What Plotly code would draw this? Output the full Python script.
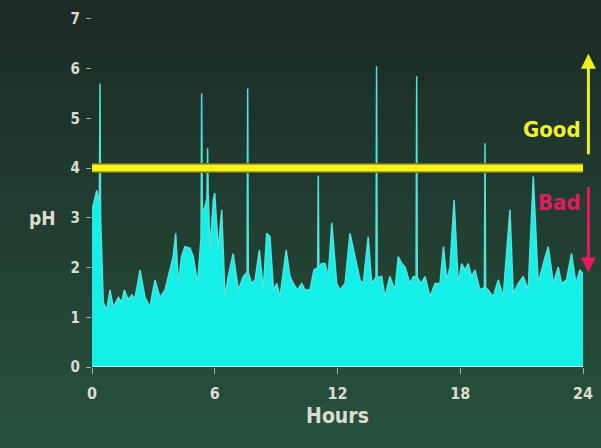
import plotly.graph_objects as go

hours = [0, 0.1, 0.23, 0.36, 0.39, 0.42, 0.55, 0.72, 0.88, 1.04, 1.29, 1.45, 1.58, 1.77, 1.94,
         2.1, 2.35, 2.59, 2.83, 3.08, 3.32, 3.57, 3.81, 3.97, 4.09, 4.22, 4.38, 4.54, 4.79, 4.95,
         5.16, 5.33, 5.36, 5.39, 5.49, 5.62, 5.65, 5.68, 5.77, 5.93, 6.0, 6.17, 6.34, 6.5, 6.66,
         6.9, 7.15, 7.4, 7.58, 7.61, 7.64, 7.8, 7.97, 8.18, 8.37, 8.54, 8.7, 8.87, 9.03, 9.19,
         9.49, 9.68, 9.84, 10.04, 10.25, 10.41, 10.65, 10.85, 11.03, 11.06, 11.09, 11.22, 11.39,
         11.55, 11.72, 11.96, 12.12, 12.37, 12.61, 12.85, 13.1, 13.26, 13.5, 13.67, 13.88, 13.91,
         13.94, 14.16, 14.32, 14.56, 14.81, 14.97, 15.14, 15.3, 15.54, 15.71, 15.84, 15.87, 15.9,
         16.08, 16.28, 16.52, 16.77, 17.01, 17.18, 17.34, 17.5, 17.7, 17.9, 18.07, 18.23, 18.39,
         18.55, 18.72, 18.96, 19.18, 19.21, 19.24, 19.37, 19.61, 19.86, 20.1, 20.43, 20.59, 20.84,
         21.08, 21.32, 21.57, 21.81, 22.06, 22.3, 22.55, 22.79, 22.95, 23.19, 23.44, 23.65, 23.85, 24.0]

ph = [3.15, 3.3, 3.55, 3.3, 5.7, 3.0, 1.3, 1.15, 1.55, 1.2, 1.4, 1.3, 1.55, 1.35, 1.45,
      1.38, 1.95, 1.4, 1.21, 1.75, 1.4, 1.55, 1.95, 2.22, 2.69, 1.68, 2.22, 2.42, 2.39, 2.22,
      1.68, 2.6, 5.5, 3.2, 3.16, 3.4, 4.4, 3.5, 2.35, 3.36, 3.5, 2.35, 3.16, 1.41, 1.82,
      2.28, 1.55, 1.82, 1.9, 5.6, 1.9, 1.68, 1.75, 2.35, 1.55, 2.69, 2.62, 1.55, 1.68, 1.41,
      2.35, 1.82, 1.68, 1.55, 1.68, 1.55, 1.55, 1.95, 2.0, 3.85, 2.0, 2.08, 2.08,
      1.82, 2.9, 1.68, 1.55, 1.68, 2.69, 2.22, 1.75, 1.68, 2.62, 1.68, 1.8, 6.05,
      1.8, 1.82, 1.41, 1.82, 1.55, 2.22, 2.08, 2.01, 1.68, 1.82, 1.8, 5.85, 1.8,
      1.68, 1.82, 1.41, 1.68, 1.68, 2.42, 1.75, 2.01, 3.36, 1.68, 2.08, 1.95, 2.08,
      1.82, 1.95, 1.55, 1.6, 4.5, 1.6, 1.55, 1.41, 1.75, 1.41, 3.16, 1.48, 1.68,
      1.82, 1.55, 3.83, 1.68, 2.08, 2.42, 1.68, 2.01, 1.68, 1.75, 2.28, 1.68, 1.95, 1.88]

threshold = 4
x_ticks = [0, 6, 12, 18, 24]
y_ticks = [0, 1, 2, 3, 4, 5, 6, 7]

FONT = "DejaVu Sans Condensed, Liberation Sans Narrow, Arial Narrow, sans-serif"
TXT = "#dcdcd2"
PX_PER_UNIT = 358 / 7.2

fig = go.Figure()

fig.add_trace(go.Scatter(x=hours, y=ph, mode="lines", fill="tozeroy",
                         line=dict(color="#4fe3dc", width=1.5),
                         fillcolor="#14efe8", hoverinfo="skip", showlegend=False))

# baseline
fig.add_trace(go.Scatter(x=[0, 24], y=[0, 0], mode="lines",
                         line=dict(color="#b8f4ee", width=2), showlegend=False, hoverinfo="skip"))

# threshold line
fig.add_trace(go.Scatter(x=[0, 24], y=[threshold, threshold], mode="lines",
                         line=dict(color="#6f6d14", width=10), showlegend=False, hoverinfo="skip"))
fig.add_trace(go.Scatter(x=[0, 24], y=[threshold, threshold], mode="lines",
                         line=dict(color="#f4f21a", width=7), showlegend=False, hoverinfo="skip"))

# gradient background
shapes = []
n = 30
top = (28, 43, 37)
bot = (40, 82, 62)
y0p, y1p = -82 / 358, 1 + 10 / 358
for i in range(n):
    t = i / (n - 1)
    c = tuple(int(top[k] + (bot[k] - top[k]) * t) for k in range(3))
    ya = y1p - (y1p - y0p) * i / n
    yb = y1p - (y1p - y0p) * (i + 1) / n
    shapes.append(dict(type="rect", xref="paper", yref="paper", x0=-0.25, x1=1.1,
                       y0=yb, y1=ya, fillcolor="rgb(%d,%d,%d)" % c, line=dict(width=0),
                       layer="below"))

arrow_x = 1.011
good_head, good_tail = 6.3, 4.25
bad_head, bad_tail = 1.9, 3.65

annotations = [
    dict(x=arrow_x, y=good_head, xref="paper", yref="y", axref="pixel", ayref="pixel",
         ax=0, ay=(good_head - good_tail) * PX_PER_UNIT,
         showarrow=True, arrowhead=2, arrowsize=1, arrowwidth=3, arrowcolor="#eef01e", text=""),
    dict(x=arrow_x, y=bad_head, xref="paper", yref="y", axref="pixel", ayref="pixel",
         ax=0, ay=(bad_head - bad_tail) * PX_PER_UNIT,
         showarrow=True, arrowhead=2, arrowsize=1, arrowwidth=3, arrowcolor="#e8185e", text=""),
    dict(x=1.0, y=4.78, xref="paper", yref="y", text="<b>Good</b>", showarrow=False,
         xanchor="right", font=dict(family=FONT, size=22, color="#eef030")),
    dict(x=1.0, y=3.3, xref="paper", yref="y", text="<b>Bad</b>", showarrow=False,
         xanchor="right", font=dict(family=FONT, size=22, color="#e01c60")),
    dict(x=-0.1, y=3.0, xref="paper", yref="y", text="<b>pH</b>", showarrow=False,
         xanchor="center", font=dict(family=FONT, size=19, color=TXT)),
]

fig.update_layout(
    width=601, height=448,
    margin=dict(l=92, r=18, t=9, b=81),
    paper_bgcolor="#244636", plot_bgcolor="rgba(0,0,0,0)",
    shapes=shapes, annotations=annotations,
    showlegend=False,
    xaxis=dict(range=[0, 24], tickvals=x_ticks, ticktext=["<b>%d</b>" % v for v in x_ticks],
               showgrid=False, zeroline=False, showline=False,
               ticks="outside", ticklen=6, tickwidth=1, tickcolor="#a8b0a8",
               ticklabelstandoff=6,
               tickfont=dict(family=FONT, size=16, color=TXT),
               title=dict(text="<b>Hours</b>", font=dict(family=FONT, size=21, color=TXT), standoff=6)),
    yaxis=dict(range=[0, 7.2], tickvals=y_ticks, ticktext=["<b>%d</b>" % v for v in y_ticks],
               showgrid=False, zeroline=False, showline=False,
               ticks="outside", ticklen=5, tickwidth=1, tickcolor="#a8b0a8",
               ticklabelstandoff=3,
               tickfont=dict(family=FONT, size=15, color=TXT)),
)

fig.write_html("out.html", config={"displayModeBar": False},
               post_script="document.body.style.margin='0';")
